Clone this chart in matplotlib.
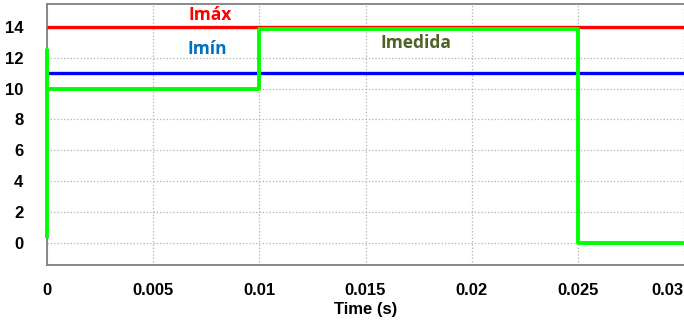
import matplotlib
matplotlib.use('Agg')
from matplotlib import pyplot as plt

# data
t_max = [0.0, 0.03]
i_max = [14.0, 14.0]
t_min = [0.0, 0.03]
i_min = [11.0, 11.0]
t_med = [0.0, 0.0, 0.0, 0.01, 0.01, 0.025, 0.025, 0.03]
i_med = [0.3, 12.5, 10.0, 10.0, 13.85, 13.85, 0.0, 0.0]

x_ticks = [0, 0.005, 0.01, 0.015, 0.02, 0.025, 0.03]
x_tick_labels = ['0', '0.005', '0.01', '0.015', '0.02', '0.025', '0.03']
y_ticks = [0, 2, 4, 6, 8, 10, 12, 14]

plt.rcParams['font.family'] = ['Liberation Sans', 'DejaVu Sans']

fig = plt.figure(figsize=(6.84, 3.26), dpi=100)
ax = fig.add_axes([47 / 684, 61 / 326, 1 - 47 / 684, 261 / 326])

ax.plot(t_max, i_max, color='#ff0000', linewidth=2.4, solid_capstyle='butt', zorder=3)
ax.plot(t_min, i_min, color='#0000ff', linewidth=2.4, solid_capstyle='butt', zorder=3)
ax.plot(t_med, i_med, color='#00ff00', linewidth=2.8, solid_capstyle='butt', zorder=4,
        clip_on=False)

ax.set_xlim(0, 0.03)
ax.set_ylim(-1.45, 15.5)
ax.set_xticks(x_ticks)
ax.set_xticklabels(x_tick_labels)
ax.set_yticks(y_ticks)
ax.tick_params(length=0, labelsize=12)
ax.xaxis.set_tick_params(pad=13)
ax.yaxis.set_tick_params(pad=17)
for lab in ax.get_xticklabels() + ax.get_yticklabels():
    lab.set_fontweight('bold')
ax.get_xticklabels()[-1].set_horizontalalignment('right')

ax.grid(True, color='#b0b0b0', linestyle=':', linewidth=0.9)
ax.set_axisbelow(True)
for side in ['left', 'bottom', 'top']:
    ax.spines[side].set_color('#808080')
    ax.spines[side].set_linewidth(1.3)
ax.spines['right'].set_visible(False)

ax.set_xlabel('Time (s)', fontsize=12, fontweight='bold', labelpad=3)

ax.text(0.0077, 14.77, 'Imáx', color='#ff0000', fontsize=12.5, fontweight='bold',
        family=['Open Sans', 'DejaVu Sans'], ha='center', va='center')
ax.text(0.00755, 12.58, 'Imín', color='#0070c0', fontsize=12.5, fontweight='bold',
        family=['Open Sans', 'DejaVu Sans'], ha='center', va='center')
ax.text(0.01736, 12.97, 'Imedida', color='#4f6228', fontsize=12.5, fontweight='bold',
        family=['Open Sans', 'DejaVu Sans'], ha='center', va='center')

fig.savefig('out.png', dpi=100)
